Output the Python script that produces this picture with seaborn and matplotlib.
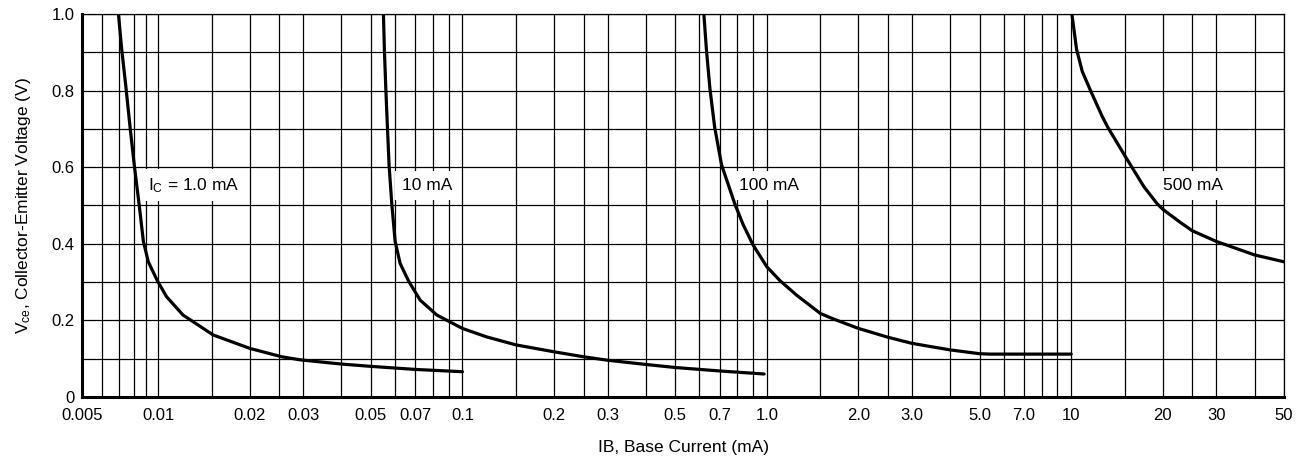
import numpy as np
import pandas as pd
import matplotlib
matplotlib.use("Agg")
import matplotlib.pyplot as plt
from matplotlib.ticker import NullFormatter
import seaborn as sns

# values (IB in mA, Vce in V)
ib_1ma = [0.00697, 0.00718, 0.00747, 0.00775, 0.00805, 0.00841, 0.00875, 0.00915, 0.00993, 0.01066,
          0.01208, 0.01517, 0.0200, 0.0255, 0.0293, 0.040, 0.050, 0.070, 0.100]
vce_1ma = [1.00, 0.908, 0.806, 0.704, 0.606, 0.504, 0.406, 0.353, 0.304, 0.262,
           0.214, 0.162, 0.127, 0.105, 0.097, 0.086, 0.080, 0.072, 0.066]

ib_10ma = [0.0550, 0.0554, 0.0560, 0.0567, 0.0574, 0.0586, 0.0601, 0.0624, 0.0664, 0.0726, 0.0824,
           0.100, 0.120, 0.150, 0.200, 0.25, 0.30, 0.40, 0.50, 0.70, 0.98]
vce_10ma = [1.00, 0.908, 0.806, 0.704, 0.606, 0.504, 0.406, 0.349, 0.304, 0.253, 0.214,
            0.179, 0.157, 0.136, 0.118, 0.105, 0.096, 0.085, 0.077, 0.068, 0.060]

ib_100ma = [0.621, 0.633, 0.650, 0.674, 0.710, 0.785, 0.836, 0.901, 1.0, 1.104, 1.252,
            1.5, 1.652, 2.0, 2.5, 3.0, 4.0, 5.0, 5.41, 7.0, 10.0]
vce_100ma = [1.00, 0.908, 0.806, 0.704, 0.606, 0.504, 0.450, 0.397, 0.340, 0.304, 0.266,
             0.218, 0.204, 0.179, 0.156, 0.140, 0.123, 0.113, 0.112, 0.112, 0.112]

ib_500ma = [10.05, 10.41, 10.87, 11.57, 12.65, 13.19, 15.0, 17.33, 19.18, 20.0, 22.9,
            25.0, 30.0, 40.0, 50.0]
vce_500ma = [1.00, 0.908, 0.850, 0.800, 0.732, 0.704, 0.630, 0.549, 0.504, 0.490, 0.455,
             0.434, 0.406, 0.371, 0.353]

curve_names = ["1.0 mA", "10 mA", "100 mA", "500 mA"]
curve_labels = ["I$_C$ = 1.0 mA", "10 mA", "100 mA", "500 mA"]
label_x = [0.0091, 0.0632, 0.81, 20.0]
label_y = 0.553

xtick_vals = [0.005, 0.01, 0.02, 0.03, 0.05, 0.07, 0.1, 0.2, 0.3, 0.5, 0.7,
              1.0, 2.0, 3.0, 5.0, 7.0, 10, 20, 30, 50]
xtick_text = ["0.005", "0.01", "0.02", "0.03", "0.05", "0.07", "0.1", "0.2", "0.3", "0.5", "0.7",
              "1.0", "2.0", "3.0", "5.0", "7.0", "10", "20", "30", "50"]
ytick_vals = [0, 0.2, 0.4, 0.6, 0.8, 1.0]
ytick_text = ["0", "0.2", "0.4", "0.6", "0.8", "1.0"]

frames = []
for name, xs, ys in zip(curve_names,
                        [ib_1ma, ib_10ma, ib_100ma, ib_500ma],
                        [vce_1ma, vce_10ma, vce_100ma, vce_500ma]):
    frames.append(pd.DataFrame({"ib": xs, "vce": ys, "ic": name}))
df = pd.concat(frames, ignore_index=True)

# vertical grid positions of the original paper
grid_x = [0.006, 0.007, 0.008, 0.009]
for d in [0.01, 0.1, 1.0, 10.0]:
    for m in [1, 1.5, 2, 2.5, 3, 4, 5, 6, 7, 8, 9]:
        if m * d <= 50:
            grid_x.append(m * d)
grid_x.append(50)

# the first half-decade (0.005 - 0.01) is squeezed on the original sheet
K = 0.83
def fwd(x):
    lx = np.log10(np.clip(np.asarray(x, dtype=float), 1e-12, None))
    return np.where(lx >= -2, lx, -2 + (lx + 2) * K)

def inv(y):
    y = np.asarray(y, dtype=float)
    return np.where(y >= -2, 10 ** y, 10 ** (-2 + (y + 2) / K))

sns.set_theme(style="white")
plt.rcParams['font.family'] = ['Liberation Sans', 'DejaVu Sans']
plt.rcParams['mathtext.default'] = 'regular'

fig = plt.figure(figsize=(13.06, 4.72), dpi=100)
ax = fig.add_axes([82 / 1306, 75 / 472, 1202 / 1306, 383 / 472])
ax.set_xscale('function', functions=(fwd, inv))

sns.lineplot(data=df, x="ib", y="vce", units="ic", estimator=None, sort=False,
             color="black", linewidth=2.3, legend=False, ax=ax, zorder=4)

ax.set_xlim(0.005, 50)
ax.set_ylim(0, 1.0)
ax.set_xticks(xtick_vals)
ax.set_xticklabels(xtick_text)
ax.set_xticks(grid_x, minor=True)
ax.xaxis.set_minor_formatter(NullFormatter())
ax.set_yticks(ytick_vals)
ax.set_yticklabels(ytick_text)
ax.set_yticks(np.arange(0.1, 1.0, 0.2), minor=True)

ax.set_axisbelow(True)
ax.grid(which='both', axis='both', color='black', linewidth=0.9)
ax.tick_params(which='both', length=0, labelsize=12, colors='black')
ax.tick_params(axis='x', pad=8)
ax.tick_params(axis='y', pad=5.5)

for side in ['left', 'bottom']:
    ax.spines[side].set_color('black')
    ax.spines[side].set_linewidth(2.2)
for side in ['top', 'right']:
    ax.spines[side].set_color('black')
    ax.spines[side].set_linewidth(0.9)

for lx, txt in zip(label_x, curve_labels):
    ax.text(lx, label_y, txt, ha='left', va='center', fontsize=12.5, color='black',
            bbox=dict(boxstyle='square,pad=0.4', fc='white', ec='none'), zorder=3)

ax.set_xlabel("IB, Base Current (mA)", fontsize=12.5, color='black', labelpad=12)
ax.set_ylabel("V$_{ce}$, Collector-Emitter Voltage (V)", fontsize=12.5, color='black', labelpad=13)

fig.savefig("out.png", dpi=100)
